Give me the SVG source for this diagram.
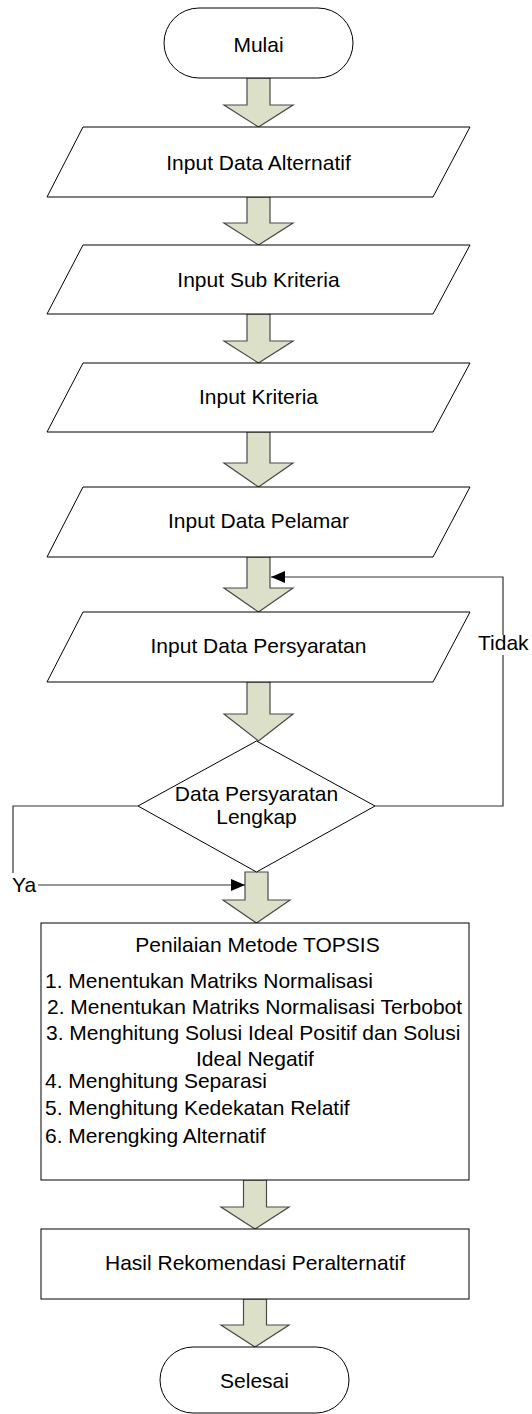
<svg xmlns="http://www.w3.org/2000/svg" width="532" height="1414" viewBox="0 0 532 1414">
<style>
.shape{fill:#ffffff;stroke:#000000;stroke-width:1}
.barrow{fill:#dde0c9;stroke:#4a4a4a;stroke-width:1.2}
.line{fill:none;stroke:#333333;stroke-width:1.2}
text{font-family:"Liberation Sans",Arial,sans-serif;font-size:21px;fill:#000000}
.c{text-anchor:middle}
</style>
<defs>
<marker id="ah" viewBox="0 0 14 12" refX="14" refY="6" markerWidth="14" markerHeight="12" markerUnits="userSpaceOnUse" orient="auto">
<path d="M0,0 L14,6 L0,12 Z" fill="#000000"/>
</marker>
</defs>
<rect width="532" height="1414" fill="#ffffff"/>

<g id="connectors">
<path class="barrow" d="M247,78 H270 V105 H293 L258.5,127 L224,105 H247 Z"/>
<path class="barrow" d="M247,197 H270 V223 H293 L258.5,245 L224,223 H247 Z"/>
<path class="barrow" d="M247,314 H270 V341 H293 L258.5,363 L224,341 H247 Z"/>
<path class="barrow" d="M247,432 H270 V463 H293 L258.5,487 L224,463 H247 Z"/>
<path class="barrow" d="M247,557 H270 V588 H293 L258.5,612 L224,588 H247 Z"/>
<path class="barrow" d="M247,682 H270 V714 H293 L258.5,741 L224,714 H247 Z"/>
<path class="barrow" d="M245,872 H268 V900 H290 L256.5,923 L223,900 H245 Z"/>
<path class="barrow" d="M243.5,1180 H266.5 V1207 H289 L255,1229 L221,1207 H243.5 Z"/>
<path class="barrow" d="M243.5,1299 H266.5 V1325 H289 L255,1347 L221,1325 H243.5 Z"/>
<path class="line" d="M375,806 H503 V655 M503,635 V577 H271" marker-end="url(#ah)"/>
<path class="line" d="M138,806 H13 V873 M38,885 H245" marker-end="url(#ah)"/>
<text x="478" y="650">Tidak</text>
<text x="12" y="892">Ya</text>
</g>

<g id="mulai">
<rect class="shape" x="164" y="8" width="189" height="70" rx="35" ry="35"/>
<text class="c" x="258.5" y="52">Mulai</text>
</g>
<g id="input-alternatif">
<path class="shape" d="M83,127 H470 L433,197 H47 Z"/>
<text class="c" x="258.5" y="170">Input Data Alternatif</text>
</g>
<g id="input-subkriteria">
<path class="shape" d="M83,245 H470 L433,314 H47 Z"/>
<text class="c" x="258.5" y="287">Input Sub Kriteria</text>
</g>
<g id="input-kriteria">
<path class="shape" d="M83,363 H470 L433,432 H47 Z"/>
<text class="c" x="258.5" y="404">Input Kriteria</text>
</g>
<g id="input-pelamar">
<path class="shape" d="M83,487 H470 L433,557 H47 Z"/>
<text class="c" x="258.5" y="528">Input Data Pelamar</text>
</g>
<g id="input-persyaratan">
<path class="shape" d="M83,612 H470 L433,682 H47 Z"/>
<text class="c" x="258.5" y="653">Input Data Persyaratan</text>
</g>
<g id="cek-persyaratan">
<path class="shape" d="M256.5,741 L375,806 L256.5,872 L138,806 Z"/>
<text class="c" x="256.5" y="801">Data Persyaratan</text>
<text class="c" x="256.5" y="824">Lengkap</text>
</g>
<g id="topsis">
<rect class="shape" x="41" y="923" width="428" height="257"/>
<text class="c" x="257.5" y="952">Penilaian Metode TOPSIS</text>
<text x="45" y="988">1. Menentukan Matriks Normalisasi</text>
<text x="47" y="1014">2. Menentukan Matriks Normalisasi Terbobot</text>
<text x="46" y="1040">3. Menghitung Solusi Ideal Positif dan Solusi</text>
<text class="c" x="255" y="1066">Ideal Negatif</text>
<text x="45" y="1088">4. Menghitung Separasi</text>
<text x="45" y="1115">5. Menghitung Kedekatan Relatif</text>
<text x="45" y="1143">6. Merengking Alternatif</text>
</g>
<g id="hasil">
<rect class="shape" x="41" y="1229" width="428" height="70"/>
<text class="c" x="255" y="1270">Hasil Rekomendasi Peralternatif</text>
</g>
<g id="selesai">
<rect class="shape" x="160" y="1347" width="189" height="66" rx="33" ry="33"/>
<text class="c" x="254.5" y="1388">Selesai</text>
</g>
</svg>
